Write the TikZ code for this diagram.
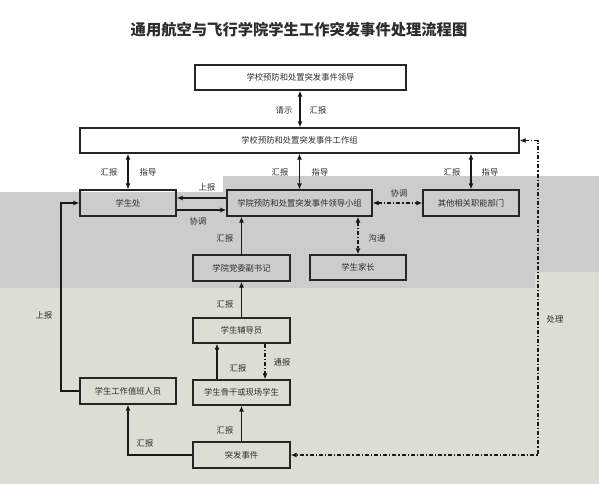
\documentclass[tikz,border=0pt]{standalone}
\usepackage{fontspec}
\setmainfont{Noto Sans CJK SC}
\usetikzlibrary{arrows.meta}
\definecolor{bggray}{RGB}{204,204,204}
\definecolor{bggreen}{RGB}{221,222,211}
\definecolor{txt}{RGB}{45,45,45}
\tikzset{
  box/.style={draw=black!85, line width=1.2pt, inner sep=0pt, text=txt,
    font=\fontsize{8.3}{10}\selectfont},
  lbl/.style={text=txt, inner sep=0pt, font=\fontsize{8.3}{10}\selectfont},
  conn/.style={line width=1.2pt, draw=black!90},
  tipa/.style={-{Latex[length=6pt,width=5pt]}},
  tipb/.style={{Latex[length=6pt,width=5pt]}-{Latex[length=6pt,width=5pt]}},
  dashdot/.style={dash pattern=on 4pt off 2pt on 1.2pt off 2pt}
}
\begin{document}
\begin{tikzpicture}[x=1pt,y=-1pt]
\useasboundingbox (0,0) rectangle (599,484);
% background regions
\fill[white] (0,0) rectangle (599,484);
\fill[bggray] (0,192) -- (223,192) -- (223,176) -- (599,176) -- (599,272) -- (535,272) -- (535,288) -- (0,288) -- cycle;
\fill[bggreen] (0,288) -- (535,288) -- (535,272) -- (599,272) -- (599,484) -- (0,484) -- cycle;

% title
\node[text=txt, font=\fontsize{15.3}{18}\selectfont\bfseries] (title) at (299,30) {通用航空与飞行学院学生工作突发事件处理流程图};

% boxes
\node[box, minimum width=211pt, minimum height=25pt] (lead) at (300.5,77.5) {学校预防和处置突发事件领导};
\node[box, minimum width=439pt, minimum height=25pt] (work) at (299.5,140.5) {学校预防和处置突发事件工作组};
\node[box, minimum width=96pt, minimum height=26pt] (xsc) at (128,203) {学生处};
\node[box, minimum width=145pt, minimum height=26pt] (xy) at (299.5,203) {学院预防和处置突发事件领导小组};
\node[box, minimum width=96pt, minimum height=26pt] (other) at (471,203) {其他相关职能部门};
\node[box, minimum width=96pt, minimum height=25pt] (parent) at (358,267.5) {学生家长};
\node[box, minimum width=97pt, minimum height=26pt] (dw) at (241.5,268) {学院党委副书记};
\node[box, minimum width=97pt, minimum height=25pt] (fdy) at (241.5,330.5) {学生辅导员};
\node[box, minimum width=97pt, minimum height=25pt] (gg) at (241.5,392.5) {学生骨干或现场学生};
\node[box, minimum width=96pt, minimum height=26pt] (zb) at (128,391) {学生工作值班人员};
\node[box, minimum width=97pt, minimum height=26pt] (tf) at (241.5,455) {突发事件};

% helper coordinates
\coordinate (c1) at (538,140.5);
\coordinate (c2) at (538,455);
\coordinate (c3) at (61,391);

% connectors
\draw[conn, tipb] (lead.south -| 300,0) -- (work.north -| 300,0);
\draw[conn, tipb] (xsc.north |- work.south) -- (xsc.north);
\draw[conn, tipb] (xy.north |- work.south) -- (xy.north);
\draw[conn, tipb] (other.north |- work.south) -- (other.north);
\draw[conn, tipa] ([yshift=5pt]xy.west) -- ([yshift=5pt]xy.west -| xsc.east);
\draw[conn, tipa] ([yshift=-7pt]xsc.east) -- ([yshift=-7pt]xsc.east -| xy.west);
\draw[conn, tipb, dashdot] (xy.east) -- (other.west);
\draw[conn, tipb, dashdot] (parent.north |- xy.south) -- (parent.north);
\draw[conn, tipa] (dw.north) -- (dw.north |- xy.south);
\draw[conn, tipa] (fdy.north) -- (dw.south);
\draw[conn, tipa] ([xshift=-24.5pt]gg.north) -- ([xshift=-24.5pt]fdy.south);
\draw[conn, tipa, dashdot] ([xshift=23.5pt]fdy.south) -- ([xshift=23.5pt]gg.north);
\draw[conn, tipa] (tf.north) -- (gg.south);
\draw[conn, tipa] (tf.west) -| (zb.south);
\draw[conn, tipa] (zb.west) -- (c3) |- (xsc.west);
\draw[conn, tipb, dashdot] (work.east) -- (c1) -- (c2) -- (tf.east);

% labels
\node[lbl] (l1) at (284,110) {请示};
\node[lbl] (l2) at (318,110) {汇报};
\node[lbl] (l3) at (109,172) {汇报};
\node[lbl] (l4) at (148,172) {指导};
\node[lbl] (l5) at (280,172) {汇报};
\node[lbl] (l6) at (320,172) {指导};
\node[lbl] (l7) at (452,172) {汇报};
\node[lbl] (l8) at (490,172) {指导};
\node[lbl] (l9) at (207,187) {上报};
\node[lbl] (l10) at (198,221) {协调};
\node[lbl] (l11) at (399,193) {协调};
\node[lbl] (l12) at (377,238) {沟通};
\node[lbl] (l13) at (225,238) {汇报};
\node[lbl] (l14) at (225,304) {汇报};
\node[lbl] (l15) at (238,368) {汇报};
\node[lbl] (l16) at (282,362) {通报};
\node[lbl] (l17) at (225,430) {汇报};
\node[lbl] (l18) at (145,443) {汇报};
\node[lbl] (l19) at (44,315) {上报};
\node[lbl] (l20) at (555,319) {处理};
\end{tikzpicture}
\end{document}
